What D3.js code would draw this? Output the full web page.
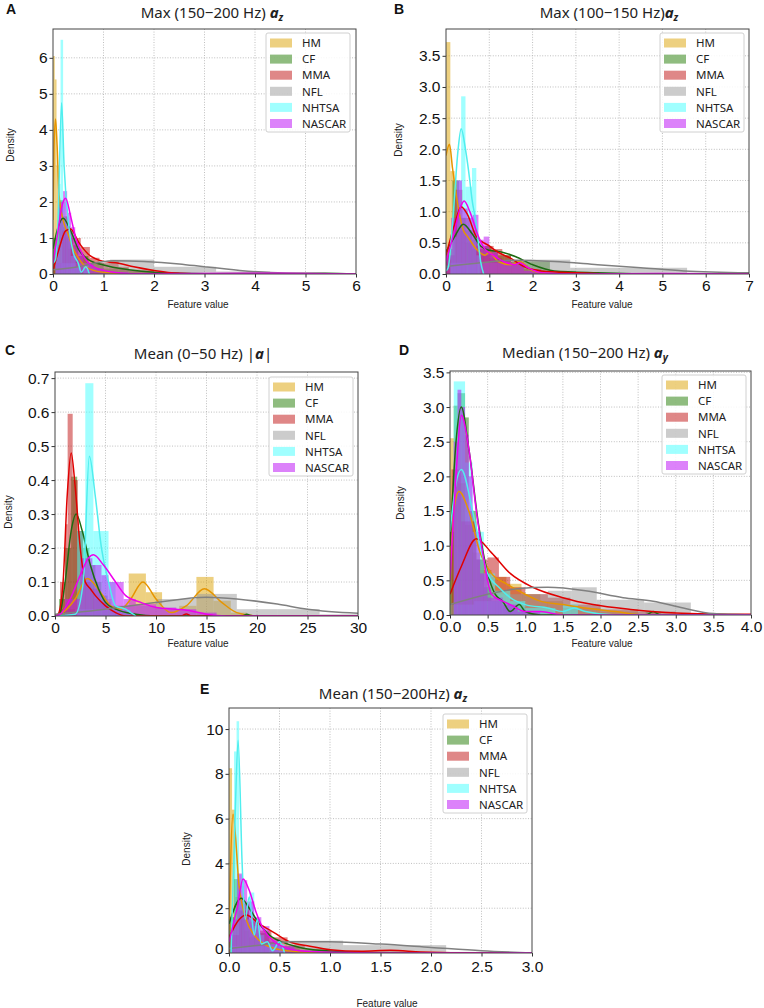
<!DOCTYPE html>
<html><head><meta charset="utf-8">
<script src="https://cdn.jsdelivr.net/npm/d3@7"></script>
<style>body{margin:0;background:#fff}</style>
</head><body>
<svg id="chart" width="764" height="1008"></svg>
<script>
// ---------- DATA ----------
const seriesNames = ["HM","CF","MMA","NFL","NHTSA","NASCAR"];

// Histograms: [binStart, binEnd, density]
const histA = {
 HM:[[0,0.035,6.05],[0.035,0.07,5.4],[0.07,0.11,3.0],[0.11,0.15,2.0],[0.15,0.2,1.5],[0.2,0.25,1.3],[0.25,0.3,1.0],[0.3,0.4,0.7],[0.4,0.5,0.4],[0.5,0.7,0.2],[0.7,1,0.08]],
 CF:[[0,0.1,1.0],[0.1,0.2,2.05],[0.2,0.3,1.6],[0.3,0.4,1.2],[0.4,0.5,0.8],[0.5,0.7,0.5],[0.7,1.0,0.3],[1.0,1.5,0.15],[1.5,2.0,0.08],[2,3,0.03],[5.3,5.5,0.02]],
 MMA:[[0,0.18,0.3],[0.18,0.36,1.2],[0.36,0.55,1.0],[0.55,0.73,0.75],[0.73,0.92,0.45],[0.92,1.1,0.3],[1.1,1.3,0.35],[1.3,1.5,0.2],[1.5,2.0,0.12],[2.0,2.5,0.05]],
 NFL:[[0.05,1.13,0.3],[1.13,2.0,0.4],[2.0,3.23,0.2],[3.23,4.3,0.07],[4.3,5.4,0.03]],
 NHTSA:[[0.05,0.1,0.8],[0.1,0.15,2.5],[0.15,0.2,6.5],[0.2,0.25,2.0],[0.25,0.3,1.5],[0.3,0.35,1.0],[0.35,0.45,0.5],[0.45,0.55,0.2],[0.6,0.7,0.25]],
 NASCAR:[[0.05,0.12,0.8],[0.12,0.2,2.0],[0.2,0.28,2.3],[0.28,0.36,1.7],[0.36,0.44,1.3],[0.44,0.52,0.9],[0.52,0.6,0.6],[0.6,0.8,0.3],[0.8,1.0,0.15],[1,1.5,0.05]]
};
// KDE curves: [x, density]
const kdeA = {
 HM:[[0,1.5],[0.02,3.5],[0.05,4.3],[0.08,3.6],[0.12,2.2],[0.2,1.5],[0.3,1.1],[0.4,0.7],[0.5,0.45],[0.65,0.2],[0.8,0.1],[1.2,0.02],[1.6,0]],
 CF:[[0,0.7],[0.1,1.3],[0.2,1.55],[0.35,1.2],[0.5,0.7],[0.7,0.4],[1.0,0.25],[1.5,0.12],[2,0.05],[3,0.01],[5.4,0.02],[6,0]],
 MMA:[[0,0.1],[0.1,0.6],[0.25,1.2],[0.35,1.25],[0.5,0.9],[0.7,0.55],[1.0,0.35],[1.3,0.3],[1.6,0.2],[2.0,0.1],[2.5,0.02],[3,0],[6,0]],
 NFL:[[0,0.12],[0.5,0.2],[0.9,0.32],[1.2,0.37],[1.8,0.35],[2.5,0.28],[3,0.2],[3.7,0.1],[4.3,0.04],[5,0.01],[6,0]],
 NHTSA:[[0,0.3],[0.05,0.4],[0.1,1.5],[0.17,4.75],[0.22,3.0],[0.3,1.5],[0.4,0.6],[0.5,0.3],[0.56,0.05],[0.65,0.2],[0.72,0]],
 NASCAR:[[0,0.3],[0.1,1.2],[0.18,1.9],[0.25,2.1],[0.35,1.6],[0.45,1.0],[0.6,0.5],[0.8,0.2],[1.2,0.05],[1.5,0.01],[4.5,0.02],[6,0]]
};

const histB = {
 HM:[[0,0.1,3.72],[0.1,0.2,1.65],[0.2,0.3,0.9],[0.3,0.45,0.7],[0.45,0.6,0.5],[0.6,0.8,0.4],[0.8,1.0,0.3],[1.0,1.3,0.25],[1.3,1.6,0.15],[1.6,1.9,0.15],[1.9,2.3,0.05]],
 CF:[[0,0.15,0.4],[0.15,0.3,1.5],[0.3,0.45,0.9],[0.45,0.6,0.7],[0.6,0.75,0.55],[0.75,0.9,0.4],[0.9,1.05,0.45],[1.05,1.2,0.38],[1.2,1.35,0.3],[1.35,1.5,0.3],[1.5,1.8,0.2],[1.8,2.4,0.2],[2.4,3,0.05]],
 MMA:[[0,0.2,0.3],[0.2,0.38,1.35],[0.38,0.55,0.9],[0.55,0.72,0.7],[0.72,0.9,0.45],[0.9,1.1,0.45],[1.1,1.3,0.4],[1.3,1.5,0.3],[1.5,1.8,0.2],[1.8,2.2,0.08],[2.2,3,0.03]],
 NFL:[[0.1,1.52,0.18],[1.52,2.87,0.23],[2.87,5.57,0.1],[5.57,7,0.02]],
 NHTSA:[[0.1,0.25,0.6],[0.25,0.35,1.5],[0.35,0.45,2.85],[0.45,0.6,1.4],[0.6,0.7,1.7],[0.7,0.8,0.3]],
 NASCAR:[[0,0.12,0.3],[0.12,0.25,0.9],[0.25,0.37,1.5],[0.37,0.5,1.05],[0.5,0.62,0.9],[0.62,0.75,0.95],[0.75,0.87,0.55],[0.87,1.0,0.6],[1.0,1.2,0.35],[1.2,1.5,0.2],[1.5,1.8,0.15],[1.8,2.2,0.05]]
};
const kdeB = {
 HM:[[0,1.9],[0.08,2.08],[0.15,1.7],[0.3,1.0],[0.4,0.7],[0.5,0.6],[0.7,0.4],[0.9,0.3],[1.0,0.35],[1.2,0.2],[1.5,0.15],[1.7,0.2],[2,0.05],[2.5,0],[7,0]],
 CF:[[0,0.35],[0.2,0.6],[0.4,0.8],[0.6,0.65],[0.8,0.45],[1.0,0.38],[1.3,0.35],[1.6,0.28],[2.0,0.15],[2.5,0.05],[3.5,0.02],[5,0],[7,0]],
 MMA:[[0,0.3],[0.2,0.8],[0.35,1.08],[0.5,0.95],[0.7,0.6],[1.0,0.45],[1.2,0.35],[1.5,0.25],[1.8,0.12],[2.2,0.05],[3,0.02],[4,0],[7,0]],
 NFL:[[0,0.12],[0.8,0.18],[1.5,0.22],[2.5,0.2],[3.5,0.15],[4.5,0.1],[5.5,0.05],[7,0.02]],
 NHTSA:[[0,0.05],[0.05,0.1],[0.15,0.8],[0.28,2.0],[0.35,2.33],[0.45,2.0],[0.55,1.5],[0.6,1.2],[0.7,0.8],[0.8,0.2],[0.87,0]],
 NASCAR:[[0,0.2],[0.2,0.7],[0.35,1.1],[0.42,1.17],[0.55,1.0],[0.75,0.6],[0.9,0.4],[1.1,0.3],[1.4,0.18],[1.6,0.15],[1.7,0.18],[1.9,0.1],[2.2,0.02],[3,0],[5,0.01],[7,0]]
};

const histC = {
 HM:[[0.5,2.2,0.02],[2.2,3.9,0.1],[3.9,5.6,0.05],[5.6,7.3,0.03],[7.3,9.0,0.125],[9.0,10.6,0.07],[10.6,12.3,0.02],[12.3,14.0,0.03],[14.0,15.7,0.115],[15.7,17.4,0.045],[17.4,19,0.01]],
 CF:[[0.4,1.0,0.05],[1.0,1.6,0.2],[1.6,2.2,0.41],[2.2,2.8,0.25],[2.8,3.4,0.2],[3.4,4.0,0.15],[4.0,4.6,0.1],[4.6,5.2,0.06],[5.2,6.0,0.03],[6.0,8,0.01],[18.5,19.5,0.005]],
 MMA:[[0.5,1.0,0.1],[1.0,1.25,0.27],[1.25,1.75,0.595],[1.75,2.25,0.4],[2.25,2.75,0.25],[2.75,3.5,0.1],[3.5,4.5,0.08],[4.5,5.5,0.04],[5.5,7,0.015]],
 NFL:[[2,6,0.02],[6,10,0.03],[10,14,0.05],[14,18,0.065],[18,22,0.02],[22,26.2,0.02],[26.2,30,0.005]],
 NHTSA:[[2.2,3.0,0.25],[3.0,3.8,0.685],[3.8,5.3,0.25],[5.3,6.0,0.1],[6.0,7.5,0.02]],
 NASCAR:[[1.0,2.5,0.05],[2.5,3.7,0.17],[3.7,4.6,0.15],[4.6,5.3,0.12],[5.3,6.8,0.1],[6.8,8,0.05],[8,10,0.035],[10,12,0.025],[12,14,0.02],[14,16,0.01]]
};
const kdeC = {
 HM:[[0,0],[0.5,0.005],[2,0.05],[3.2,0.11],[4.5,0.07],[5.5,0.03],[6.5,0.02],[7.5,0.05],[8.7,0.1],[10,0.05],[11.5,0.01],[13,0.03],[14.8,0.08],[16.5,0.04],[18,0.01],[20,0],[30,0]],
 CF:[[0,0],[0.5,0.01],[1.0,0.1],[1.6,0.25],[2.1,0.3],[2.7,0.25],[3.5,0.15],[4.3,0.08],[5,0.04],[6,0.02],[8,0.005],[10,0],[18.5,0],[19,0.005],[19.5,0],[30,0]],
 MMA:[[0,0],[0.3,0.005],[0.8,0.1],[1.2,0.35],[1.6,0.48],[2.0,0.38],[2.5,0.2],[3,0.1],[3.5,0.08],[4,0.06],[5,0.03],[6,0.01],[7,0],[12.5,0],[13,0.006],[13.5,0],[30,0]],
 NFL:[[0,0.005],[5,0.02],[10,0.04],[15,0.055],[18,0.05],[22,0.035],[25,0.02],[30,0.008]],
 NHTSA:[[0,0],[2.0,0.005],[2.8,0.1],[3.4,0.47],[4.0,0.35],[4.6,0.2],[5.3,0.1],[6,0.03],[7,0.02],[7.5,0.01],[8,0]],
 NASCAR:[[0,0],[0.5,0.005],[1.5,0.05],[2.5,0.12],[3.3,0.17],[3.8,0.18],[4.8,0.15],[6,0.1],[7,0.06],[8.5,0.04],[10,0.025],[12,0.02],[13.5,0.015],[15,0.005],[17,0],[30,0]]
};

const histD = {
 HM:[[0,0.05,2.55],[0.05,0.1,2.1],[0.1,0.2,1.9],[0.2,0.3,1.3],[0.3,0.4,0.9],[0.4,0.55,0.65],[0.55,0.75,0.55],[0.75,0.95,0.45],[0.95,1.2,0.3],[1.2,1.5,0.2],[1.5,2,0.1],[2,2.5,0.05]],
 CF:[[0,0.05,1.2],[0.05,0.1,3.02],[0.1,0.2,3.2],[0.2,0.25,2.85],[0.25,0.35,1.5],[0.35,0.45,0.8],[0.45,0.55,0.4],[0.55,0.7,0.2],[0.7,0.85,0.15],[0.85,1.0,0.12],[2.6,2.8,0.05]],
 MMA:[[0.02,0.15,2.1],[0.15,0.35,1.35],[0.35,0.5,0.8],[0.5,0.65,0.83],[0.65,0.8,0.55],[0.8,1.0,0.4],[1.0,1.3,0.3],[1.3,1.6,0.25],[1.6,2.0,0.15],[2.0,2.5,0.08],[2.5,3,0.05]],
 NFL:[[0,0.32,0.15],[0.32,0.64,0.2],[0.64,0.97,0.3],[0.97,1.3,0.3],[1.3,1.62,0.35],[1.62,1.95,0.4],[1.95,2.58,0.22],[2.58,3.2,0.18],[3.2,3.5,0.02]],
 NHTSA:[[0.05,0.2,3.37],[0.2,0.3,2.2],[0.3,0.45,1.2],[0.45,0.6,0.6],[0.6,0.8,0.35],[0.8,1.0,0.2],[1.0,1.4,0.1],[1.5,1.7,0.15]],
 NASCAR:[[0.05,0.1,2.5],[0.1,0.15,3.25],[0.15,0.2,3.0],[0.2,0.25,2.6],[0.25,0.3,2.0],[0.3,0.4,1.2],[0.4,0.5,0.6],[0.5,0.7,0.25],[0.7,0.9,0.15],[0.9,1.2,0.05]]
};
const kdeD = {
 HM:[[0,0.8],[0.05,1.5],[0.12,1.78],[0.25,1.5],[0.4,0.9],[0.55,0.6],[0.75,0.45],[1.0,0.3],[1.2,0.2],[1.5,0.15],[1.8,0.1],[2.2,0.05],[2.6,0],[4,0]],
 CF:[[0,1.0],[0.08,2.5],[0.15,3.0],[0.25,2.4],[0.38,1.3],[0.5,0.6],[0.6,0.3],[0.7,0.2],[0.8,0.05],[0.92,0.15],[1.0,0.05],[1.2,0],[2.6,0],[2.7,0.05],[2.8,0],[4,0]],
 MMA:[[0,0.3],[0.15,0.7],[0.35,1.1],[0.55,0.9],[0.8,0.6],[1.1,0.4],[1.5,0.25],[1.9,0.15],[2.4,0.08],[3,0.03],[4,0.01]],
 NFL:[[0,0.15],[0.5,0.3],[0.9,0.38],[1.3,0.4],[1.8,0.35],[2.3,0.25],[2.7,0.2],[3.1,0.1],[3.5,0.02],[4,0]],
 NHTSA:[[0,1.2],[0.08,1.9],[0.15,2.1],[0.3,1.5],[0.4,1.0],[0.5,0.6],[0.65,0.4],[0.8,0.25],[1.0,0.15],[1.3,0.1],[1.5,0.05],[1.65,0.1],[1.8,0.05],[2.2,0],[4,0]],
 NASCAR:[[0,0.5],[0.08,2.0],[0.15,2.88],[0.25,2.4],[0.35,1.5],[0.45,0.8],[0.55,0.3],[0.7,0.2],[0.8,0.15],[1.0,0.05],[1.2,0.05],[1.5,0],[4,0]]
};

const histE = {
 HM:[[0,0.03,8.25],[0.03,0.06,6.4],[0.06,0.1,2.5],[0.1,0.15,1.5],[0.15,0.2,1.0],[0.2,0.3,0.7],[0.3,0.4,0.35],[0.4,0.6,0.15],[0.6,0.9,0.05]],
 CF:[[0,0.05,1.6],[0.05,0.1,3.3],[0.1,0.15,2.5],[0.15,0.2,2.2],[0.2,0.3,1.5],[0.3,0.4,0.9],[0.4,0.5,0.5],[0.5,0.7,0.3],[0.7,1.0,0.12],[1.0,1.5,0.04]],
 MMA:[[0,0.1,0.8],[0.1,0.2,1.9],[0.2,0.3,1.4],[0.3,0.42,1.0],[0.42,0.58,0.7],[0.58,0.75,0.35],[0.75,1.0,0.2],[1.0,1.3,0.1],[1.3,1.8,0.08],[1.8,2.3,0.03]],
 NFL:[[0.03,0.6,0.3],[0.6,1.13,0.55],[1.13,2.15,0.35],[2.15,2.7,0.05]],
 NHTSA:[[0.02,0.05,1.0],[0.05,0.075,9.0],[0.075,0.1,10.35],[0.1,0.125,3.5],[0.125,0.15,3.0],[0.15,0.2,1.5],[0.2,0.25,2.7],[0.25,0.3,1.2],[0.3,0.35,0.8],[0.35,0.45,0.4],[0.45,0.55,0.4]],
 NASCAR:[[0.03,0.08,1.5],[0.08,0.13,3.55],[0.13,0.18,3.25],[0.18,0.25,2.3],[0.25,0.32,1.6],[0.32,0.4,1.2],[0.4,0.5,0.6],[0.5,0.65,0.3],[0.65,0.9,0.1]]
};
const kdeE = {
 HM:[[0,1.0],[0.04,6.2],[0.1,3.0],[0.17,1.5],[0.25,0.8],[0.35,0.4],[0.5,0.15],[0.7,0.05],[1,0],[3,0]],
 CF:[[0,1.3],[0.12,2.45],[0.2,2.0],[0.3,1.3],[0.4,0.8],[0.55,0.45],[0.7,0.25],[0.9,0.12],[1.2,0.05],[1.6,0],[3,0]],
 MMA:[[0,0.7],[0.1,1.5],[0.17,1.7],[0.3,1.3],[0.45,0.9],[0.6,0.5],[0.8,0.3],[1.0,0.15],[1.3,0.08],[1.6,0.12],[1.9,0.05],[2.5,0],[3,0]],
 NFL:[[0,0.2],[0.3,0.35],[0.6,0.5],[1.0,0.5],[1.5,0.4],[2.0,0.25],[2.5,0.1],[3,0]],
 NHTSA:[[0.02,0],[0.06,6],[0.09,9.5],[0.13,4],[0.16,1.5],[0.2,2.5],[0.25,0.8],[0.28,1.5],[0.32,0.4],[0.38,0.5],[0.43,0.1],[0.5,0.5],[0.55,0]],
 NASCAR:[[0,0.5],[0.08,2.0],[0.14,3.3],[0.2,2.8],[0.27,1.8],[0.35,1.0],[0.45,0.5],[0.55,0.25],[0.7,0.1],[1.0,0.03],[1.5,0],[3,0]]
};

// Tick values
const ticksA = {x:[0,1,2,3,4,5,6], y:[0,1,2,3,4,5,6]};
const ticksB = {x:[0,1,2,3,4,5,6,7], y:[0,0.5,1,1.5,2,2.5,3,3.5]};
const ticksC = {x:[0,5,10,15,20,25,30], y:[0,0.1,0.2,0.3,0.4,0.5,0.6,0.7]};
const ticksD = {x:[0,0.5,1,1.5,2,2.5,3,3.5,4], y:[0,0.5,1,1.5,2,2.5,3,3.5]};
const ticksE = {x:[0,0.5,1,1.5,2,2.5,3], y:[0,2,4,6,8,10]};

// ---------- STYLE ----------
const fillCol = {HM:"#dba102",CF:"#1f7900",MMA:"#c01010",NFL:"#999999",NHTSA:"#41ffff",NASCAR:"#c01cf6"};
const fillOp = {HM:0.5,CF:0.5,MMA:0.5,NFL:0.5,NHTSA:0.5,NASCAR:0.55};
const lineCol = {HM:"#e69500",CF:"#1d6b12",MMA:"#e00000",NFL:"#808080",NHTSA:"#50eeee",NASCAR:"#ee00ee"};

const panels = [
 {id:"A",hist:histA,kde:kdeA,ticks:ticksA,xd:[0,6],yd:[0,6.8],L:53,R:356,T:29,B:274,fx:d3.format("d"),fy:d3.format("d"),
  title:["Max (150−200 Hz) ","a","z"],tx:212,ty:18,lx:6,ly:14,fvx:198,fvy:308,dx:14,dy:145,leg:[266,33],tf:15.5},
 {id:"B",hist:histB,kde:kdeB,ticks:ticksB,xd:[0,7],yd:[0,3.93],L:446,R:749,T:29,B:274,fx:d3.format("d"),fy:d3.format(".1f"),
  title:["Max (100−150 Hz)","a","z"],tx:609,ty:18,lx:394,ly:14,fvx:602,fvy:308,dx:402,dy:140,leg:[660,33],tf:15.5},
 {id:"C",hist:histC,kde:kdeC,ticks:ticksC,xd:[0,30],yd:[0,0.718],L:55,R:358,T:372,B:616,fx:d3.format("d"),fy:d3.format(".1f"),
  title:["Mean (0−50 Hz) |","a","|"],tx:203,ty:359,lx:5,ly:355,fvx:198,fvy:647,dx:12,dy:512,leg:[269,377],tf:15.5},
 {id:"D",hist:histD,kde:kdeD,ticks:ticksD,xd:[0,4],yd:[0,3.52],L:450,R:751,T:371,B:615,fx:d3.format(".1f"),fy:d3.format(".1f"),
  title:["Median (150−200 Hz) ","a","y"],tx:585,ty:358,lx:399,ly:355,fvx:602,fvy:647,dx:404,dy:503,leg:[662,375],tf:15.5},
 {id:"E",hist:histE,kde:kdeE,ticks:ticksE,xd:[0,3],yd:[0,10.94],L:229,R:532,T:708,B:953,fx:d3.format(".1f"),fy:d3.format("d"),
  title:["Mean (150−200Hz) ","a","z"],tx:393,ty:699,lx:200,ly:694,fvx:387,fvy:1007,dx:190,dy:849,leg:[443,714],tf:15.5}
];

const svg = d3.select("#chart");
const defs = svg.append("defs");

panels.forEach(p => {
  const x = d3.scaleLinear().domain(p.xd).range([p.L,p.R]);
  const y = d3.scaleLinear().domain(p.yd).range([p.B,p.T]);
  const g = svg.append("g");
  defs.append("clipPath").attr("id","clip"+p.id).append("rect")
    .attr("x",p.L).attr("y",p.T).attr("width",p.R-p.L).attr("height",p.B-p.T);

  // grid
  const grid = g.append("g");
  p.ticks.x.forEach(v => { if (x(v)>p.L+1 && x(v)<p.R-1) grid.append("line").attr("x1",x(v)).attr("x2",x(v)).attr("y1",p.T).attr("y2",p.B); });
  p.ticks.y.forEach(v => { if (y(v)<p.B-1 && y(v)>p.T+1) grid.append("line").attr("x1",p.L).attr("x2",p.R).attr("y1",y(v)).attr("y2",y(v)); });
  grid.selectAll("line").attr("stroke","#b8b8b8").attr("stroke-width",0.9).attr("stroke-dasharray","1,1.6");

  const plot = g.append("g").attr("clip-path","url(#clip"+p.id+")");
  const line = d3.line().x(d=>x(d[0])).y(d=>y(d[1])).curve(d3.curveMonotoneX);
  seriesNames.forEach(s => {
    plot.append("g").selectAll("rect").data(p.hist[s]).join("rect")
      .attr("x",d=>x(d[0])).attr("width",d=>Math.max(0.5,x(d[1])-x(d[0])))
      .attr("y",d=>y(d[2])).attr("height",d=>y(0)-y(d[2]))
      .attr("fill",fillCol[s]).attr("fill-opacity",fillOp[s]);
  });
  seriesNames.forEach(s => {
    plot.append("path").datum(p.kde[s]).attr("d",line)
      .attr("fill","none").attr("stroke",lineCol[s]).attr("stroke-width",1.5);
  });

  // axes
  const xa = d3.axisBottom(x).tickValues(p.ticks.x).tickFormat(p.fx).tickSize(3.5).tickPadding(p.id==="E"?4:2);
  const ya = d3.axisLeft(y).tickValues(p.ticks.y).tickFormat(p.fy).tickSize(3.5).tickPadding(2);
  const gx = g.append("g").attr("transform",`translate(0,${p.B})`).call(xa);
  const gy = g.append("g").attr("transform",`translate(${p.L},0)`).call(ya);
  [gx,gy].forEach(a => {
    a.select(".domain").remove();
    a.selectAll("line").attr("stroke","#333");
    a.selectAll("text").attr("font-family","Liberation Sans").attr("font-size",p.tf).attr("fill","#111");
  });
  if (p.id==="E") gy.selectAll(".tick text").filter(d=>d===0).attr("dy","0.05em");
  g.append("rect").attr("x",p.L).attr("y",p.T).attr("width",p.R-p.L).attr("height",p.B-p.T)
    .attr("fill","none").attr("stroke","#444").attr("stroke-width",1);

  // titles
  const t = g.append("text").attr("x",p.tx).attr("y",p.ty).attr("text-anchor","middle")
    .attr("font-family","Noto Sans").attr("font-size",15).attr("fill","#222");
  t.append("tspan").text(p.title[0]);
  if (p.id==="C") {
    t.append("tspan").attr("font-style","italic").attr("font-weight","bold").text(p.title[1]);
    t.append("tspan").text(p.title[2]);
  } else {
    t.append("tspan").attr("font-style","italic").attr("font-weight","bold").text(p.title[1]);
    t.append("tspan").attr("font-style","italic").attr("font-weight","bold").attr("font-size",10).attr("dy",3).text(p.title[2]);
  }
  g.append("text").attr("x",p.lx).attr("y",p.ly).attr("font-family","Liberation Sans").attr("font-weight","bold")
    .attr("font-size",14).attr("fill","#111").text(p.id);
  g.append("text").attr("x",p.fvx).attr("y",p.fvy).attr("text-anchor","middle").attr("font-family","Liberation Sans")
    .attr("font-size",10).attr("fill","#222").text("Feature value");
  g.append("text").attr("transform",`translate(${p.dx},${p.dy}) rotate(-90)`).attr("text-anchor","middle")
    .attr("font-family","Liberation Sans").attr("font-size",10).attr("fill","#222").text("Density");

  // legend
  const lg = g.append("g").attr("transform",`translate(${p.leg[0]},${p.leg[1]})`);
  lg.append("rect").attr("width",84).attr("height",99).attr("rx",2).attr("fill","#fff").attr("fill-opacity",0.85)
    .attr("stroke","#d0d0d0");
  seriesNames.forEach((s,i) => {
    const cy = 10 + i*16.1;
    lg.append("rect").attr("x",4).attr("y",cy-4.5).attr("width",22).attr("height",9)
      .attr("fill",fillCol[s]).attr("fill-opacity",fillOp[s]);
    lg.append("text").attr("x",36).attr("y",cy+4.2).attr("font-family","Noto Sans").attr("font-size",11.5)
      .attr("fill","#222").text(s);
  });
});
</script>
</body></html>
